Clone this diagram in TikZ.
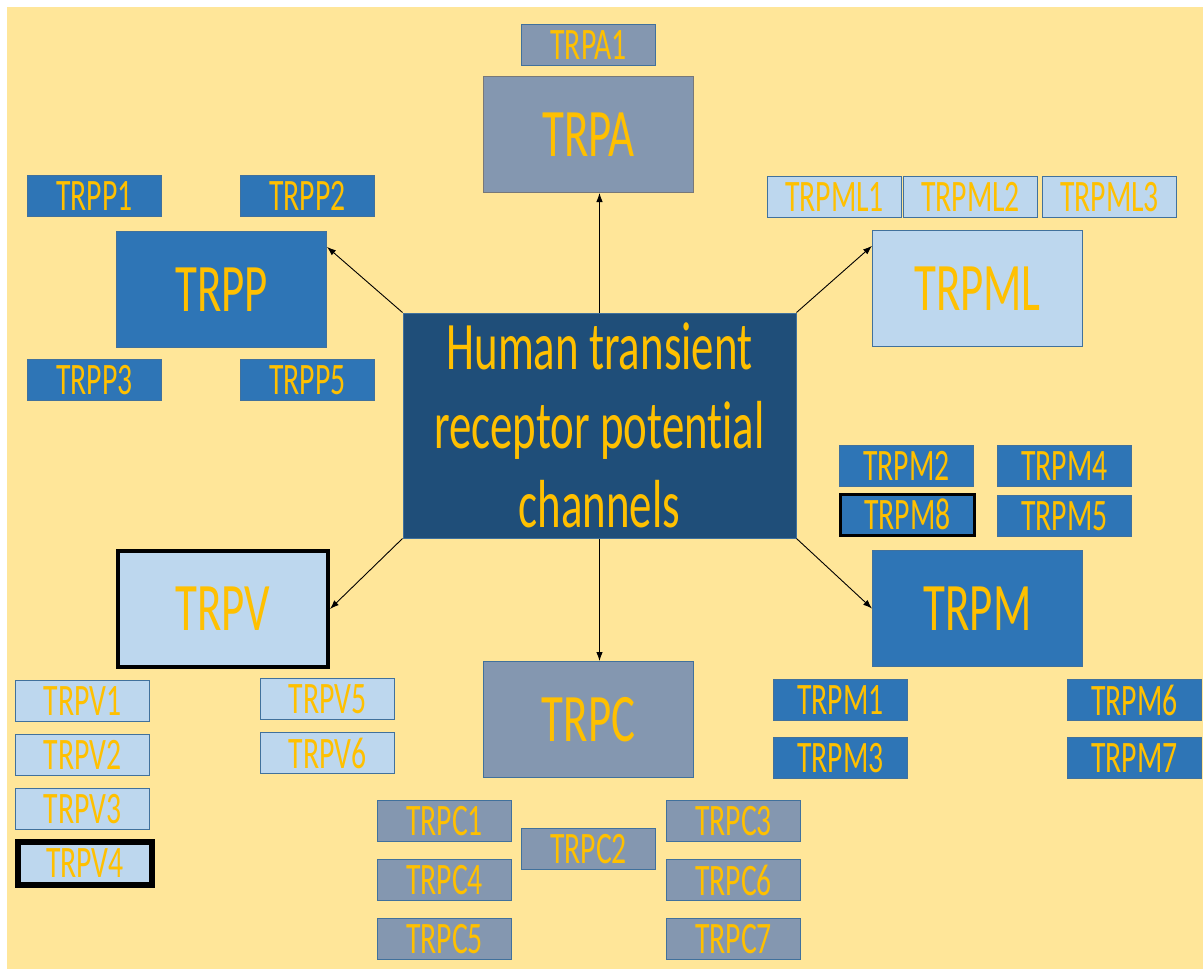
\documentclass[tikz,border=0pt]{standalone}
\usepackage{fontspec}
\usepackage{tikz}
\usetikzlibrary{arrows,arrows.meta,calc}
\newfontfamily\trpfont{Carlito}[FakeStretch=0.66, Ligatures=NoCommon]
\definecolor{paleamber}{RGB}{255,230,153}
\definecolor{goldtext}{RGB}{255,192,0}
\definecolor{navyblue}{RGB}{31,78,121}
\definecolor{steelblue}{RGB}{46,117,182}
\definecolor{skyblue}{RGB}{189,215,238}
\definecolor{slateblue}{RGB}{132,151,176}
\definecolor{edgeblue}{RGB}{65,113,156}
\definecolor{edgegrey}{RGB}{120,120,120}
\tikzset{
  family/.style={draw=edgeblue, line width=1pt, text=goldtext, inner sep=0pt,
    anchor=north west, minimum width=210pt, minimum height=116pt,
    font=\trpfont\fontsize{68}{80}\selectfont},
  member/.style={family, minimum width=134pt, minimum height=41pt,
    font=\trpfont\fontsize{45}{52}\selectfont},
  bold edge/.style={draw=black, line width=#1},
  link/.style={-{Latex[length=9pt,width=6.5pt]}, line width=0.9pt, black}
}

\begin{document}
\begin{tikzpicture}[x=1pt, y=-1pt]
  \useasboundingbox (0,0) rectangle (1203,970);
  \fill[paleamber] (7,7) rectangle (1203,969);

  % centre
  \node[draw=edgeblue, line width=1pt, fill=navyblue, text=goldtext, inner sep=0pt,
    minimum width=393pt, minimum height=225pt, align=center,
    font=\trpfont\fontsize{68}{79}\selectfont] (trp) at (599.5,425.5)
    {Human transient\\receptor potential\\channels};

  % TRPA
  \node[family, fill=slateblue, draw=edgegrey] (pa) at (483,76) {TRPA};
  \node[member, fill=slateblue] (pa1) at (521,24) {TRPA1};

  % TRPP
  \node[family, fill=steelblue] (pp) at (116,231) {TRPP};
  \node[member, fill=steelblue] (pp1) at (27,175) {TRPP1};
  \node[member, fill=steelblue] (pp2) at (240,175) {TRPP2};
  \node[member, fill=steelblue] (pp3) at (27,359) {TRPP3};
  \node[member, fill=steelblue] (pp5) at (240,359) {TRPP5};

  % TRPML
  \node[family, fill=skyblue] (ml) at (872,230) {TRPML};
  \node[member, fill=skyblue] (ml1) at (767,176) {TRPML1};
  \node[member, fill=skyblue] (ml2) at (903,176) {TRPML2};
  \node[member, fill=skyblue] (ml3) at (1042,176) {TRPML3};

  % TRPM
  \node[family, fill=steelblue] (pm) at (872,550) {TRPM};
  \node[member, fill=steelblue] (pm2) at (839,445) {TRPM2};
  \node[member, fill=steelblue] (pm4) at (997,445) {TRPM4};
  \node[member, fill=steelblue, bold edge=2.5pt] (pm8) at (839,493) {TRPM8};
  \node[member, fill=steelblue] (pm5) at (997,495) {TRPM5};
  \node[member, fill=steelblue] (pm1) at (773,679) {TRPM1};
  \node[member, fill=steelblue] (pm3) at (773,737) {TRPM3};
  \node[member, fill=steelblue] (pm6) at (1067,679) {TRPM6};
  \node[member, fill=steelblue] (pm7) at (1067,737) {TRPM7};

  % TRPV
  \node[family, fill=skyblue, bold edge=4pt] (pv) at (116,549) {TRPV};
  \node[member, fill=skyblue] (pv1) at (15,680) {TRPV1};
  \node[member, fill=skyblue] (pv2) at (15,734) {TRPV2};
  \node[member, fill=skyblue] (pv3) at (15,788) {TRPV3};
  \node[member, fill=skyblue, bold edge=6pt, minimum height=43pt] (pv4) at (15,839) {TRPV4};
  \node[member, fill=skyblue] (pv5) at (260,678) {TRPV5};
  \node[member, fill=skyblue] (pv6) at (260,732) {TRPV6};

  % TRPC
  \node[family, fill=slateblue] (pc) at (483,661) {TRPC};
  \node[member, fill=slateblue] (pc1) at (377,800) {TRPC1};
  \node[member, fill=slateblue] (pc4) at (377,859) {TRPC4};
  \node[member, fill=slateblue] (pc5) at (377,918) {TRPC5};
  \node[member, fill=slateblue] (pc2) at (521,828) {TRPC2};
  \node[member, fill=slateblue] (pc3) at (666,800) {TRPC3};
  \node[member, fill=slateblue] (pc6) at (666,859) {TRPC6};
  \node[member, fill=slateblue] (pc7) at (666,918) {TRPC7};

  % arrows
  \draw[link] (trp.north) -- (trp.north |- pa.south);
  \draw[link] (trp.north west) -- (pp.22);
  \draw[link] (trp.north east) -- (ml.158);
  \draw[link] (trp.south east) -- (pm.west);
  \draw[link] (trp.south west) -- (pv.east);
  \draw[link] (trp.south) -- (trp.south |- pc.north);
\end{tikzpicture}
\end{document}
